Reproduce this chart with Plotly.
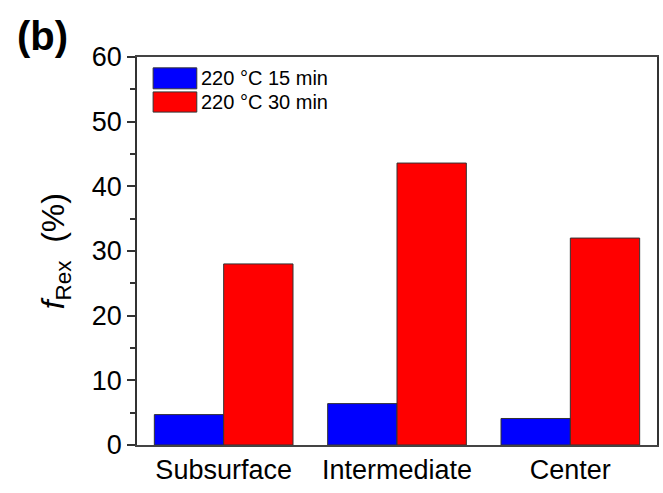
import plotly.graph_objects as go

# Recrystallized fraction by location and annealing condition
locations = ["Subsurface", "Intermediate", "Center"]
series_names = ["220 °C 15 min", "220 °C 30 min"]
frex_15min = [4.7, 6.4, 4.1]
frex_30min = [28.0, 43.6, 32.0]
series_colors = ["#0000FF", "#FF0000"]
y_ticks = [0, 10, 20, 30, 40, 50, 60]

FONT = "Liberation Sans, Arial, sans-serif"
EDGE = "#333333"

fig = go.Figure()
for name, vals, col in zip(series_names, [frex_15min, frex_30min], series_colors):
    fig.add_trace(go.Bar(
        x=locations, y=vals, name=name, showlegend=False,
        marker=dict(color=col, line=dict(color=EDGE, width=1)),
    ))

# Legend drawn as large swatches with text labels
sw_x0, sw_x1 = 0.031, 0.115
sw_rows = [(0.918, 0.972), (0.858, 0.910)]
for (y0, y1), name, col in zip(sw_rows, series_names, series_colors):
    fig.add_shape(type="rect", xref="paper", yref="paper",
                  x0=sw_x0, x1=sw_x1, y0=y0, y1=y1,
                  fillcolor=col, line=dict(color=EDGE, width=1))
    fig.add_annotation(xref="paper", yref="paper", x=sw_x1 + 0.004, y=(y0 + y1) / 2,
                       text=name, showarrow=False, xanchor="left", yanchor="middle",
                       font=dict(family=FONT, size=20, color="black"))

# Y-axis title and panel label
fig.add_annotation(xref="paper", yref="paper", x=-0.157, y=0.5,
                   text="<i>f</i><sub>Rex</sub>  (%)", textangle=-90, showarrow=False,
                   xanchor="center", yanchor="middle",
                   font=dict(family=FONT, size=32, color="black"))
fig.add_annotation(xref="paper", yref="paper", x=-0.235, y=1.115,
                   text="<b>(b)</b>", showarrow=False, xanchor="left", yanchor="top",
                   font=dict(family=FONT, size=40, color="black"))

fig.update_layout(
    width=663, height=493,
    margin=dict(l=137, r=4, t=57, b=48),
    paper_bgcolor="white", plot_bgcolor="white",
    barmode="group", bargap=0.2, bargroupgap=0,
    font=dict(family=FONT, color="black"),
)
fig.update_xaxes(
    range=[-0.5, 2.5], showline=True, linecolor="#444444", linewidth=1.5,
    mirror=True, ticks="", tickfont=dict(size=27), showgrid=False,
)
fig.update_yaxes(
    range=[0, 60], tickvals=y_ticks, showline=True, linecolor="#333333", linewidth=1.5,
    mirror=True, ticks="outside", ticklen=8, tickwidth=1.5, tickcolor="#333333",
    tickfont=dict(size=27), showgrid=False, zeroline=False,
    minor=dict(dtick=5, ticks="outside", ticklen=5, tickwidth=1.5, tickcolor="#333333"),
)

fig.write_html("out.html")
